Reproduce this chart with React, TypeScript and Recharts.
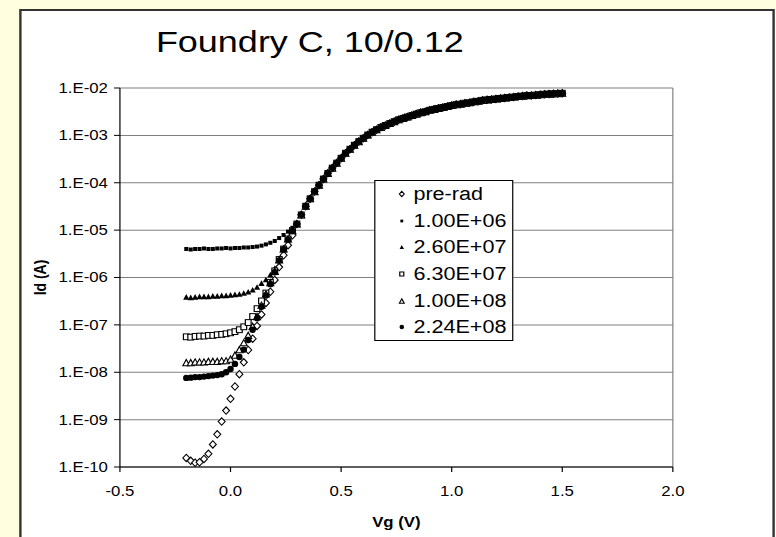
import React from 'react';
import { ScatterChart, Scatter, XAxis, YAxis, CartesianGrid, ReferenceLine, Legend } from 'recharts';

const FONT = '"Liberation Sans", Arial, sans-serif';

// the original picture is stretched sideways by about 1.2
const W = 647;
const STRETCH = 776 / W;

// gate voltage (V)
const VG = [
  -0.2, -0.18, -0.16, -0.14, -0.12, -0.1, -0.08, -0.06, -0.04, -0.02,
  0.0, 0.02, 0.04, 0.06, 0.08, 0.1, 0.12, 0.14, 0.16, 0.18,
  0.2, 0.22, 0.24, 0.26, 0.28,
  0.3, 0.32, 0.34, 0.36, 0.38, 0.4, 0.42, 0.44, 0.46, 0.48,
  0.5, 0.52, 0.54, 0.56, 0.58, 0.6, 0.62, 0.64, 0.66, 0.68,
  0.7, 0.72, 0.74, 0.76, 0.78, 0.8, 0.82, 0.84, 0.86, 0.88,
  0.9, 0.92, 0.94, 0.96, 0.98, 1.0, 1.02, 1.04, 1.06, 1.08,
  1.1, 1.12, 1.14, 1.16, 1.18, 1.2, 1.22, 1.24, 1.26, 1.28,
  1.3, 1.32, 1.34, 1.36, 1.38, 1.4, 1.42, 1.44, 1.46, 1.48,
  1.5,
];

// Id (A) above 0.30 V, where all doses lie on one curve
const ID_ON = [
  1.35e-5, 2.1e-5, 3.2e-5, 4.6e-5, 6.5e-5, 8.9e-5, 1.2e-4, 1.58e-4, 2.04e-4, 2.6e-4,
  3.3e-4, 4.2e-4, 5.1e-4, 6.2e-4, 7.4e-4, 8.7e-4, 1.02e-3, 1.17e-3, 1.32e-3, 1.48e-3,
  1.62e-3, 1.78e-3, 1.95e-3, 2.14e-3, 2.29e-3, 2.45e-3, 2.63e-3, 2.82e-3, 3.02e-3, 3.16e-3,
  3.39e-3, 3.55e-3, 3.72e-3, 3.89e-3, 4.07e-3, 4.27e-3, 4.47e-3, 4.57e-3, 4.79e-3, 4.9e-3,
  5.13e-3, 5.25e-3, 5.5e-3, 5.62e-3, 5.75e-3, 5.89e-3, 6.03e-3, 6.17e-3, 6.31e-3, 6.46e-3,
  6.61e-3, 6.76e-3, 6.92e-3, 6.95e-3, 7.08e-3, 7.24e-3, 7.41e-3, 7.45e-3, 7.59e-3, 7.62e-3,
  7.76e-3,
];

// Id (A) from -0.20 V to 0.28 V, per dose
const ID_PRERAD = [
  1.55e-10, 1.35e-10, 1.23e-10, 1.26e-10, 1.48e-10, 1.9e-10, 3.0e-10, 4.9e-10, 9.1e-10, 1.55e-9,
  2.75e-9, 5.0e-9, 9.1e-9, 1.62e-8, 2.95e-8, 5.1e-8, 9.5e-8, 1.66e-7, 2.9e-7, 5.0e-7,
  8.9e-7, 1.66e-6, 2.95e-6, 4.8e-6, 7.8e-6,
];
const ID_1E6 = [
  4.0e-6, 3.9e-6, 4.0e-6, 4.0e-6, 4.1e-6, 4.0e-6, 4.0e-6, 4.1e-6, 4.1e-6, 4.2e-6,
  4.1e-6, 4.2e-6, 4.2e-6, 4.3e-6, 4.3e-6, 4.4e-6, 4.5e-6, 4.7e-6, 5.0e-6, 5.4e-6,
  5.9e-6, 6.8e-6, 7.9e-6, 9.3e-6, 1.12e-5,
];
const ID_26E7 = [
  3.9e-7, 3.8e-7, 3.9e-7, 4.0e-7, 4.0e-7, 4.0e-7, 4.1e-7, 4.1e-7, 4.2e-7, 4.2e-7,
  4.3e-7, 4.4e-7, 4.5e-7, 4.7e-7, 5.0e-7, 5.5e-7, 6.3e-7, 7.6e-7, 9.1e-7, 1.15e-6,
  1.58e-6, 2.5e-6, 4.1e-6, 6.6e-6, 1.0e-5,
];
const ID_63E7 = [
  5.6e-8, 5.5e-8, 5.7e-8, 5.8e-8, 5.8e-8, 6.0e-8, 6.0e-8, 6.2e-8, 6.3e-8, 6.5e-8,
  6.8e-8, 7.2e-8, 7.9e-8, 9.1e-8, 1.12e-7, 1.5e-7, 2.2e-7, 3.2e-7, 4.7e-7, 7.9e-7,
  1.38e-6, 2.4e-6, 4.0e-6, 6.5e-6, 9.8e-6,
];
const ID_1E8 = [
  1.6e-8, 1.6e-8, 1.65e-8, 1.65e-8, 1.65e-8, 1.7e-8, 1.7e-8, 1.7e-8, 1.75e-8, 1.75e-8,
  1.9e-8, 2.3e-8, 3.0e-8, 4.2e-8, 6.0e-8, 9.3e-8, 1.5e-7, 2.6e-7, 4.5e-7, 7.8e-7,
  1.35e-6, 2.35e-6, 4.0e-6, 6.5e-6, 9.8e-6,
];
const ID_224E8 = [
  7.6e-9, 7.7e-9, 7.9e-9, 7.9e-9, 8.1e-9, 8.3e-9, 8.5e-9, 8.7e-9, 9.1e-9, 1.0e-8,
  1.17e-8, 1.5e-8, 2.1e-8, 3.0e-8, 4.8e-8, 7.9e-8, 1.38e-7, 2.4e-7, 4.17e-7, 7.24e-7,
  1.29e-6, 2.29e-6, 3.89e-6, 6.31e-6, 9.55e-6,
];

const X_TICKS = [-0.5, 0, 0.5, 1.0, 1.5, 2.0];
const Y_TICKS = [1e-10, 1e-9, 1e-8, 1e-7, 1e-6, 1e-5, 1e-4, 1e-3, 1e-2];

const SERIES = [
  { name: 'pre-rad', kind: 'diamond', low: ID_PRERAD },
  { name: '1.00E+06', kind: 'smallSquare', low: ID_1E6 },
  { name: '2.60E+07', kind: 'triangle', low: ID_26E7 },
  { name: '6.30E+07', kind: 'square', low: ID_63E7 },
  { name: '1.00E+08', kind: 'openTriangle', low: ID_1E8 },
  { name: '2.24E+08', kind: 'circle', low: ID_224E8 },
];

const toPoints = (low: number[]) => {
  const ids = low.concat(ID_ON);
  return VG.map((v, i) => ({ x: v, y: ids[i] }));
};

const fmtExp = (v: number) => {
  const e = Math.round(Math.log10(v));
  return `1.E${e < 0 ? '-' : '+'}${String(Math.abs(e)).padStart(2, '0')}`;
};

function Marker({ kind, cx, cy, s = 1 }: { kind: string; cx: number; cy: number; s?: number }) {
  if (cx == null || cy == null) return null;
  switch (kind) {
    case 'diamond': {
      const w = 2.9 * s, h = 3.7 * s;
      return <path d={`M${cx},${cy - h}L${cx + w},${cy}L${cx},${cy + h}L${cx - w},${cy}Z`} fill="#fff" stroke="#000" strokeWidth={1} />;
    }
    case 'smallSquare': {
      const a = 1.7 * s, b = 2.0 * s;
      return <rect x={cx - a} y={cy - b} width={2 * a} height={2 * b} fill="#000" />;
    }
    case 'triangle': {
      const w = 2.6 * s, h = 2.8 * s;
      return <path d={`M${cx},${cy - h}L${cx + w},${cy + h}L${cx - w},${cy + h}Z`} fill="#000" />;
    }
    case 'square': {
      const a = 2.4 * s, b = 2.9 * s;
      return <rect x={cx - a} y={cy - b} width={2 * a} height={2 * b} fill="#fff" stroke="#000" strokeWidth={1} />;
    }
    case 'openTriangle': {
      const w = 2.9 * s, h = 3.1 * s;
      return <path d={`M${cx},${cy - h}L${cx + w},${cy + h}L${cx - w},${cy + h}Z`} fill="#fff" stroke="#000" strokeWidth={1} />;
    }
    default:
      return <ellipse cx={cx} cy={cy} rx={2.7 * s} ry={3.2 * s} fill="#000" />;
  }
}

const renderLegend = () => (
  <div
    style={{
      width: 116,
      height: 161,
      border: '1px solid #000',
      background: '#fff',
      boxSizing: 'border-box',
      fontFamily: FONT,
      fontSize: 18,
      color: '#000',
    }}
  >
    {SERIES.map(s => (
      <div key={s.name} style={{ height: 26.6, display: 'flex', alignItems: 'center', lineHeight: 1 }}>
        <svg width={10} height={10} style={{ marginLeft: 17, marginRight: 5, overflow: 'visible' }}>
          <Marker kind={s.kind} cx={5} cy={5} s={0.7} />
        </svg>
        <span>{s.name}</span>
      </div>
    ))}
  </div>
);

export default function App() {
  return (
    <div style={{ position: 'absolute', left: 0, top: 0, width: 776, height: 537, background: '#ffffe0', overflow: 'hidden' }}>
      <div style={{ position: 'absolute', left: 0, top: 0, width: W, height: 537, transform: `scaleX(${STRETCH})`, transformOrigin: '0 0' }}>
        <div
          style={{
            position: 'absolute',
            left: 15.8,
            top: 9,
            width: 630.4,
            height: 560,
            background: '#fff',
            border: '2px solid #333',
            boxSizing: 'border-box',
          }}
        />
        <div style={{ position: 'absolute', left: 0, top: 0 }}>
          <ScatterChart width={W} height={537} margin={{ top: 88, right: W - 561, bottom: 0, left: 0 }} style={{ fontFamily: FONT }}>
            <CartesianGrid vertical={false} stroke="#808080" strokeWidth={1} />
            <XAxis
              dataKey="x"
              type="number"
              domain={[-0.5, 2]}
              ticks={X_TICKS}
              interval={0}
              allowDataOverflow
              tickFormatter={(v: number) => v.toFixed(1)}
              height={70}
              tickSize={5}
              tickMargin={14}
              axisLine={{ stroke: '#000' }}
              tickLine={{ stroke: '#000' }}
              tick={{ fill: '#000', fontSize: 14 }}
            />
            <YAxis
              dataKey="y"
              type="number"
              scale="log"
              domain={[1e-10, 1e-2]}
              ticks={Y_TICKS}
              interval={0}
              allowDataOverflow
              tickFormatter={fmtExp}
              width={100}
              tickSize={5}
              tickMargin={5}
              axisLine={{ stroke: '#000' }}
              tickLine={{ stroke: '#000' }}
              tick={{ fill: '#000', fontSize: 14 }}
            />
            <ReferenceLine x={2} stroke="#808080" />
            {SERIES.map(s => (
              <Scatter
                key={s.name}
                name={s.name}
                data={toPoints(s.low)}
                isAnimationActive={false}
                shape={(p: any) => <Marker kind={s.kind} cx={p.cx} cy={p.cy} />}
              />
            ))}
            <Legend
              layout="vertical"
              align="center"
              verticalAlign="middle"
              content={renderLegend}
              wrapperStyle={{ left: 311.7, top: 180, width: 116, height: 161 }}
            />
          </ScatterChart>
        </div>
        <svg width={W} height={537} style={{ position: 'absolute', left: 0, top: 0, pointerEvents: 'none', fontFamily: FONT }}>
          <text x={130} y={52} fontSize={30} fill="#000">Foundry C, 10/0.12</text>
          <text x={330.5} y={527} fontSize={14} fontWeight="bold" textAnchor="middle" fill="#000">Vg (V)</text>
          <text transform="translate(38.5,277.5) rotate(-90)" fontSize={14} fontWeight="bold" textAnchor="middle" fill="#000">Id (A)</text>
        </svg>
      </div>
    </div>
  );
}
